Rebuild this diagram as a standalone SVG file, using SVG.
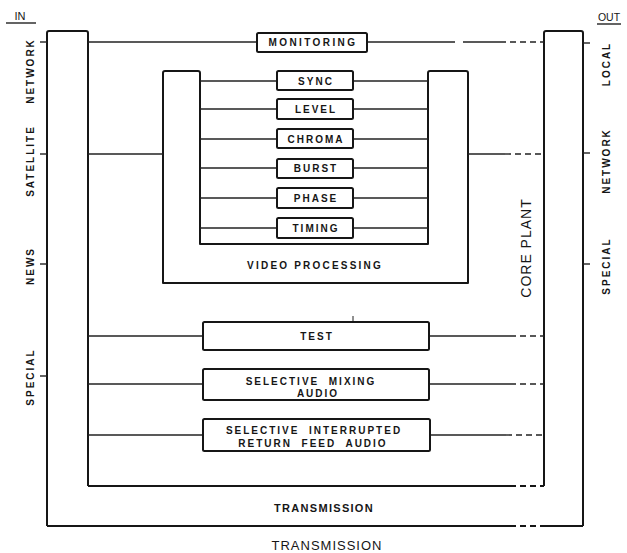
<svg xmlns="http://www.w3.org/2000/svg" width="627" height="553" viewBox="0 0 627 553">
<style>
.bg{fill:#fff}
.fr{fill:none;stroke:#161616;stroke-width:2;stroke-linejoin:round}
.bx{fill:#fff;stroke:#161616;stroke-width:2}
.ln{fill:none;stroke:#222;stroke-width:1.4}
.ds{fill:none;stroke:#222;stroke-width:1.4;stroke-dasharray:6 4}
.t{font-family:"Liberation Sans",Arial,sans-serif;font-weight:bold;font-size:10px;letter-spacing:2px;fill:#161616;text-anchor:middle;white-space:pre}
.tr{font-family:"Liberation Sans",Arial,sans-serif;font-size:14px;letter-spacing:1px;fill:#161616;text-anchor:middle}
.tb{font-family:"Liberation Sans",Arial,sans-serif;font-size:13px;letter-spacing:1px;fill:#161616;text-anchor:middle}
.ti{font-family:"Liberation Sans",Arial,sans-serif;font-size:11px;fill:#161616;text-anchor:middle}
</style>
<rect class="bg" x="0" y="0" width="627" height="553"/>

<g id="core-plant">
  <path class="fr" d="M47,526 V33 Q47,31 49,31 H86 Q88,31 88,33 V486"/>
  <path class="fr" d="M544,486 V33 Q544,31 546,31 H581 Q583,31 583,33 V526"/>
  <path class="fr" d="M88,486 H510"/>
  <path class="fr" d="M510,486 H544" stroke-dasharray="6 4"/>
  <path class="fr" d="M47,526 H510"/>
  <path class="fr" d="M510,526 H540" stroke-dasharray="6 4"/>
  <path class="fr" d="M540,526 H583"/>
  <text class="tr" transform="translate(531,248) rotate(-90)">CORE PLANT</text>
  <text class="t" x="324" y="512" style="font-size:11px;letter-spacing:1.3px">TRANSMISSION</text>
</g>

<g id="video-processing">
  <path class="fr" d="M163,283 V73 Q163,71 165,71 H198 Q200,71 200,73 V244 H428 V73 Q428,71 430,71 H466 Q468,71 468,73 V283 Z"/>
  <text class="t" x="315" y="269" style="letter-spacing:2.2px">VIDEO PROCESSING</text>
</g>

<g id="connectors">
  <line class="ln" x1="88" y1="42" x2="257" y2="42"/>
  <line class="ln" x1="367" y1="42" x2="455" y2="42"/>
  <line class="ln" x1="463" y1="42" x2="500" y2="42"/>
  <line class="ds" x1="500" y1="42" x2="544" y2="42"/>
  <line class="ln" x1="88" y1="154" x2="163" y2="154"/>
  <line class="ln" x1="468" y1="154" x2="505" y2="154"/>
  <line class="ds" x1="505" y1="154" x2="544" y2="154"/>
  <line class="ln" x1="200" y1="81" x2="277" y2="81"/><line class="ln" x1="353" y1="81" x2="428" y2="81"/>
  <line class="ln" x1="200" y1="109" x2="277" y2="109"/><line class="ln" x1="353" y1="109" x2="428" y2="109"/>
  <line class="ln" x1="200" y1="139" x2="277" y2="139"/><line class="ln" x1="353" y1="139" x2="428" y2="139"/>
  <line class="ln" x1="200" y1="168" x2="277" y2="168"/><line class="ln" x1="353" y1="168" x2="428" y2="168"/>
  <line class="ln" x1="200" y1="198" x2="277" y2="198"/><line class="ln" x1="353" y1="198" x2="428" y2="198"/>
  <line class="ln" x1="200" y1="228" x2="277" y2="228"/><line class="ln" x1="353" y1="228" x2="428" y2="228"/>
  <line class="ln" x1="88" y1="336" x2="203" y2="336"/>
  <line class="ln" x1="429" y1="336" x2="510" y2="336"/>
  <line class="ds" x1="510" y1="336" x2="544" y2="336"/>
  <line class="ln" x1="88" y1="384" x2="203" y2="384"/>
  <line class="ln" x1="429" y1="384" x2="510" y2="384"/>
  <line class="ds" x1="510" y1="384" x2="544" y2="384"/>
  <line class="ln" x1="88" y1="435" x2="203" y2="435"/>
  <line class="ln" x1="430" y1="435" x2="506" y2="435"/>
  <line class="ds" x1="506" y1="435" x2="544" y2="435"/>
  <line class="ln" x1="40" y1="42" x2="47" y2="42"/>
  <line class="ln" x1="40" y1="154" x2="47" y2="154"/>
  <line class="ln" x1="40" y1="264" x2="47" y2="264"/>
  <line class="ln" x1="40" y1="376" x2="47" y2="376"/>
  <line class="ln" x1="583" y1="43" x2="590" y2="43"/>
  <line class="ln" x1="583" y1="153" x2="590" y2="153"/>
  <line class="ln" x1="583" y1="264" x2="590" y2="264"/>
  <line class="ln" x1="353" y1="316" x2="353" y2="322" style="stroke-width:1"/>
</g>

<g id="monitoring"><rect class="bx" x="257" y="33" width="110" height="19" rx="1.5"/><text class="t" x="313" y="46" style="letter-spacing:2.4px">MONITORING</text></g>
<g id="sync"><rect class="bx" x="277" y="71" width="76" height="19" rx="1.5"/><text class="t" x="316" y="85">SYNC</text></g>
<g id="level"><rect class="bx" x="277" y="99" width="76" height="20" rx="1.5"/><text class="t" x="316" y="113">LEVEL</text></g>
<g id="chroma"><rect class="bx" x="277" y="129" width="76" height="19" rx="1.5"/><text class="t" x="316" y="143">CHROMA</text></g>
<g id="burst"><rect class="bx" x="277" y="159" width="76" height="19" rx="1.5"/><text class="t" x="316" y="172">BURST</text></g>
<g id="phase"><rect class="bx" x="277" y="188" width="76" height="20" rx="1.5"/><text class="t" x="316" y="202">PHASE</text></g>
<g id="timing"><rect class="bx" x="277" y="218" width="76" height="20" rx="1.5"/><text class="t" x="316" y="232">TIMING</text></g>

<g id="test"><rect class="bx" x="203" y="322" width="226" height="28" rx="1.5"/><text class="t" x="317" y="340">TEST</text></g>
<g id="selective-mixing-audio"><rect class="bx" x="203" y="369" width="226" height="31" rx="1.5"/><text class="t" x="311" y="385" xml:space="preserve">SELECTIVE  MIXING</text><text class="t" x="318" y="397">AUDIO</text></g>
<g id="selective-interrupted"><rect class="bx" x="203" y="419" width="227" height="32" rx="1.5"/><text class="t" x="314" y="434" xml:space="preserve">SELECTIVE  INTERRUPTED</text><text class="t" x="313" y="447" xml:space="preserve">RETURN  FEED  AUDIO</text></g>

<g id="inputs">
  <text class="ti" x="20" y="20">IN</text>
  <line class="ln" x1="6" y1="23" x2="36" y2="23"/>
  <text class="t" transform="translate(34,71) rotate(-90)">NETWORK</text>
  <text class="t" transform="translate(34,161) rotate(-90)">SATELLITE</text>
  <text class="t" transform="translate(34,266) rotate(-90)">NEWS</text>
  <text class="t" transform="translate(34,377) rotate(-90)">SPECIAL</text>
</g>

<g id="outputs">
  <text class="ti" x="609" y="21" style="font-size:10.5px">OUT</text>
  <line class="ln" x1="597" y1="24" x2="621" y2="24"/>
  <text class="t" transform="translate(610,64) rotate(-90)">LOCAL</text>
  <text class="t" transform="translate(610,161) rotate(-90)">NETWORK</text>
  <text class="t" transform="translate(610,266) rotate(-90)">SPECIAL</text>
</g>

<text class="tb" x="327" y="550">TRANSMISSION</text>
</svg>
